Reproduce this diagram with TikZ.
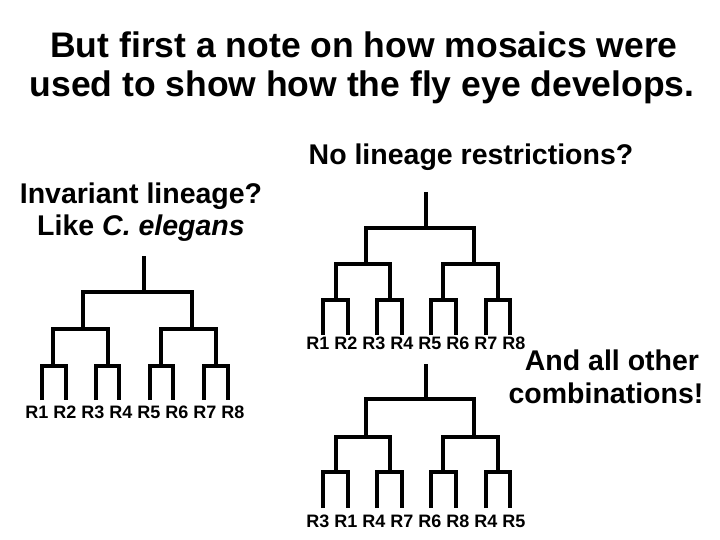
\documentclass[tikz,border=0pt]{standalone}
\usepackage{fontspec}
\setmainfont{Liberation Sans}
\begin{document}
\begin{tikzpicture}[x=1pt,y=-1pt,
  branch/.style={line width=3.8pt,line join=miter,line cap=butt},
  title/.style={font=\fontsize{35.5}{39}\selectfont\bfseries,align=center,anchor=base,inner sep=0pt},
  head/.style={font=\fontsize{28.5}{33}\selectfont\bfseries,align=center,anchor=base,inner sep=0pt},
  leaves/.style={font=\fontsize{18}{20}\selectfont\bfseries,anchor=base,inner sep=0pt}]
\useasboundingbox[fill=white] (0,0) rectangle (720,540);
\newcommand{\brk}[4]{\draw[branch] (#1,#4) -- (#1,#3) -- (#2,#3) -- (#2,#4);}
% title
\node[title] (t1) at (364,58) {But first a note on how mosaics were};
\node[title] (t2) at (362,97) {used to show how the fly eye develops.};
% headings
\node[head] (h1) at (471,165) {No lineage restrictions?};
\node[head] (h2) at (141,204) {Invariant lineage?};
\node[head] (h3) at (141,236) {Like \textit{C. elegans}};
\node[head] (h4) at (612,370) {And all other};
\node[head] (h5) at (606,403) {combinations!};
% left tree
\draw[branch] (144,256) -- (144,292);
\brk{83}{192}{292}{329}
\brk{53}{108}{329}{366}
\brk{161}{216}{329}{366}
\brk{42}{66}{366}{400}
\brk{96}{119}{366}{400}
\brk{150}{173}{366}{400}
\brk{204}{228}{366}{400}
\node[leaves] (l1) at (135,418) {R1 R2 R3 R4 R5 R6 R7 R8};
% top right tree
\draw[branch] (426,192) -- (426,228);
\brk{366}{474}{228}{264}
\brk{336}{390}{264}{300}
\brk{443}{498}{264}{300}
\brk{323}{348}{300}{335}
\brk{377}{402}{300}{335}
\brk{431}{456}{300}{335}
\brk{486}{510}{300}{335}
\node[leaves] (l2) at (416,349) {R1 R2 R3 R4 R5 R6 R7 R8};
% bottom tree
\draw[branch] (426,364) -- (426,399);
\brk{366}{474}{399}{437}
\brk{336}{390}{437}{472}
\brk{443}{498}{437}{472}
\brk{323}{348}{472}{508}
\brk{377}{402}{472}{508}
\brk{431}{456}{472}{508}
\brk{486}{510}{472}{508}
\node[leaves] (l3) at (416,527) {R3 R1 R4 R7 R6 R8 R4 R5};
\end{tikzpicture}
\end{document}
